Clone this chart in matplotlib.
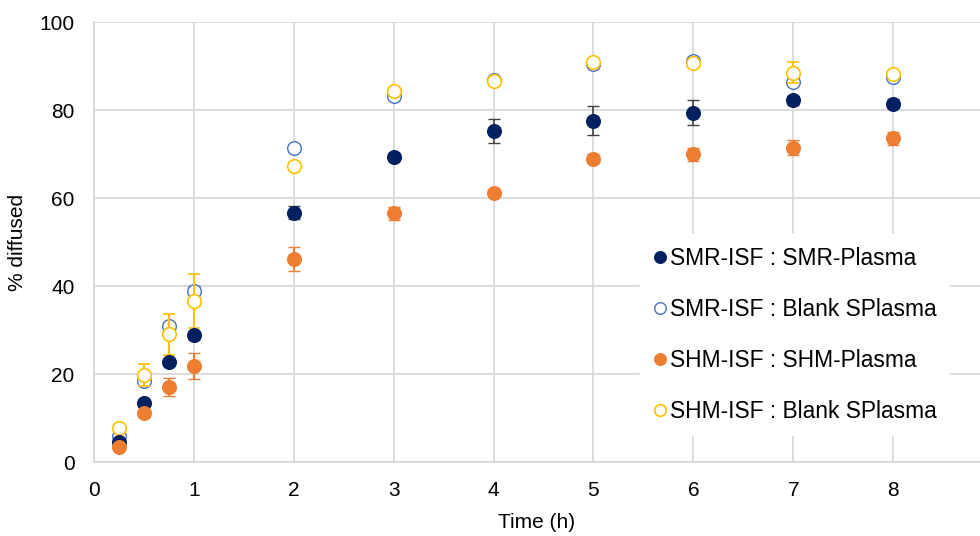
import matplotlib.pyplot as plt

plt.rcParams['font.family'] = ['Liberation Sans', 'DejaVu Sans']

# tempo (h)
t = [0.25, 0.5, 0.75, 1, 2, 3, 4, 5, 6, 7, 8]

smr_plasma = [4.5, 13.5, 22.7, 28.8, 56.7, 69.4, 75.3, 77.6, 79.4, 82.2, 81.4]
smr_plasma_err = [0.5, 0.6, 0.8, 0.8, 1.5, 0.8, 2.7, 3.2, 2.9, 1.0, 1.0]

smr_blank = [5.8, 18.5, 30.8, 38.9, 71.4, 83.2, 86.8, 90.4, 91.1, 86.4, 87.6]
smr_blank_err = [0.5, 0.8, 1.0, 1.0, 0.5, 0.6, 0.5, 0.6, 0.5, 0.6, 0.5]

shm_plasma = [3.5, 11.1, 17.1, 21.8, 46.1, 56.5, 61.2, 68.9, 69.9, 71.4, 73.6]
shm_plasma_err = [0.5, 0.6, 2.1, 3.0, 2.8, 1.5, 0.6, 1.0, 1.5, 1.7, 1.5]

shm_blank = [7.8, 19.7, 29.0, 36.6, 67.3, 84.4, 86.5, 90.8, 90.6, 88.5, 88.2]
shm_blank_err = [0.5, 2.5, 4.6, 6.1, 0.5, 0.6, 0.5, 0.6, 0.5, 2.3, 0.6]

labels = ['SMR-ISF : SMR-Plasma', 'SMR-ISF : Blank SPlasma',
          'SHM-ISF : SHM-Plasma', 'SHM-ISF : Blank SPlasma']

fig = plt.figure(figsize=(9.8, 5.36), dpi=100)
ax = fig.add_axes([94 / 980, 1 - 462 / 536, 1 - 94 / 980, 440 / 536])

ms = 9.8
# kolejność rysowania jak w oryginale
ax.errorbar(t, smr_blank, yerr=smr_blank_err, fmt='o', ms=ms, mfc='white', mec='#4472C4',
             mew=1.0, ecolor='#4472C4', elinewidth=1.2, capsize=4, label=labels[1], zorder=3)
ax.errorbar(t, shm_blank, yerr=shm_blank_err, fmt='o', ms=ms, mfc='white', mec='#FFC000',
             mew=1.2, ecolor='#FFC000', elinewidth=1.5, capsize=4, label=labels[3], zorder=4)
ax.errorbar(t, smr_plasma, yerr=smr_plasma_err, fmt='o', ms=ms, color='#002060',
             ecolor='#404040', elinewidth=1.2, capsize=4, label=labels[0], zorder=5)
ax.errorbar(t, shm_plasma, yerr=shm_plasma_err, fmt='o', ms=ms, color='#ED7D31',
             ecolor='#ED7D31', elinewidth=1.5, capsize=4, label=labels[2], zorder=6)

ax.set_xlim(0, 8.87)
ax.set_ylim(0, 100)
ax.set_xticks(range(0, 9))
ax.set_yticks(range(0, 101, 20))
ax.grid(True, color='#d9d9d9', linewidth=1.3)
ax.set_axisbelow(True)
for s in ['top', 'right']:
    ax.spines[s].set_visible(False)
for s in ['left', 'bottom']:
    ax.spines[s].set_color('#d9d9d9')
    ax.spines[s].set_linewidth(1.3)
ax.tick_params(axis='x', length=0, labelsize=15, pad=14)
ax.tick_params(axis='y', length=0, labelsize=15, pad=14)

ax.set_xlabel('Time (h)', fontsize=15, labelpad=9)
ax.set_ylabel('% diffused', fontsize=15, labelpad=9)

h, l = ax.get_legend_handles_labels()
order = [l.index(x) for x in labels]
hh = [h[i][0] for i in order]
leg = ax.legend(hh, labels, loc='lower right', bbox_to_anchor=(0.978, 0.035),
                fontsize=16.4, frameon=True, framealpha=1, edgecolor='white',
                handlelength=0.6, handletextpad=0.15, labelspacing=1.23,
                markerscale=0.85, borderpad=0.55, fancybox=False)
leg.set_zorder(10)

fig.savefig('out.png', dpi=100)
